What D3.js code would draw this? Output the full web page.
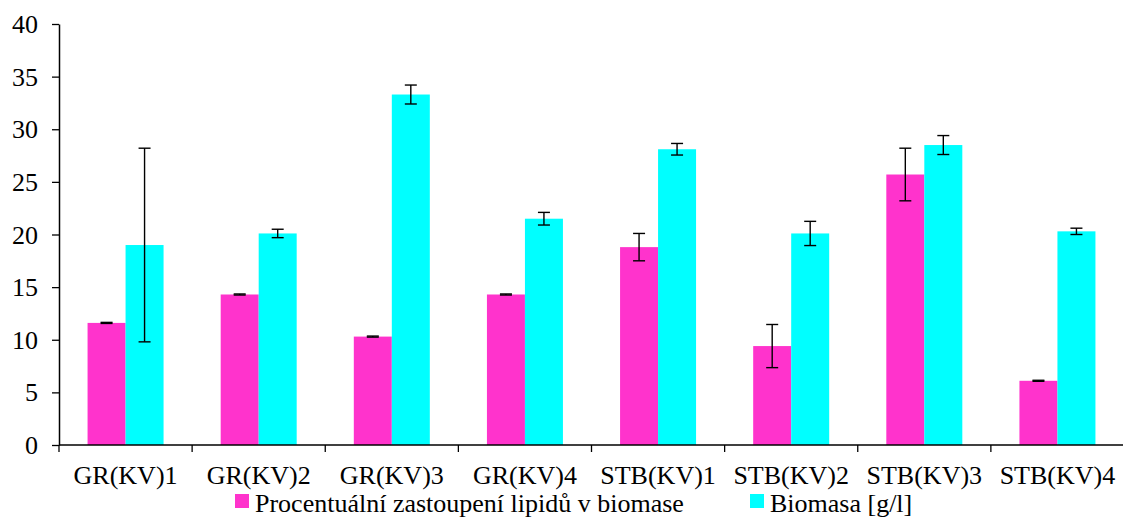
<!DOCTYPE html>
<html>
<head>
<meta charset="utf-8">
<script src="https://cdn.jsdelivr.net/npm/d3@7/dist/d3.min.js"></script>
<style>
  body { margin: 0; background: #fff; }
  text { font-family: "Liberation Serif", "Times New Roman", serif; fill: #000; }
</style>
</head>
<body>
<div id="chart"></div>
<script>
var categories = ["GR(KV)1", "GR(KV)2", "GR(KV)3", "GR(KV)4", "STB(KV)1", "STB(KV)2", "STB(KV)3", "STB(KV)4"];
var seriesNames = ["Procentuální zastoupení lipidů v biomase", "Biomasa [g/l]"];
var lipidy = [11.6, 14.3, 10.3, 14.3, 18.8, 9.4, 25.7, 6.1];
var lipidyErr = [0.05, 0.05, 0.05, 0.05, 1.3, 2.05, 2.5, 0.05];
var biomasa = [19.0, 20.1, 33.3, 21.5, 28.1, 20.1, 28.5, 20.3];
var biomasaErr = [9.2, 0.4, 0.9, 0.6, 0.55, 1.15, 0.9, 0.3];
var yTicks = [0, 5, 10, 15, 20, 25, 30, 35, 40];
var colors = ["#ff33cc", "#00ffff"];

var width = 1123, height = 517;
var mLeft = 59, mRight = 1124, mTop = 24, mBottom = 445;

var svg = d3.select('#chart')
    .append('svg')
    .attr('width', width)
    .attr('height', height);

var x = d3.scaleBand().domain(categories).range([mLeft, mRight]);
var xSub = d3.scaleBand().domain([0, 1]).range([x.bandwidth() / 2 - 38, x.bandwidth() / 2 + 38]);
var y = d3.scaleLinear().domain([0, 40]).range([mBottom, mTop]);

var rows = categories.map(function(c, i) {
    return [
        {cat: c, s: 0, v: lipidy[i], e: lipidyErr[i]},
        {cat: c, s: 1, v: biomasa[i], e: biomasaErr[i]}
    ];
});

var groups = svg.selectAll('g.grp')
    .data(rows)
    .enter()
    .append('g')
    .attr('class', 'grp')
    .attr('transform', (d, i) => 'translate(' + x(categories[i]) + ',0)');

groups.selectAll('rect')
    .data(d => d)
    .enter()
    .append('rect')
    .attr('x', d => xSub(d.s))
    .attr('width', xSub.bandwidth())
    .attr('y', d => y(d.v))
    .attr('height', d => y(0) - y(d.v))
    .attr('fill', d => colors[d.s]);

// error bars
var err = groups.selectAll('g.err')
    .data(d => d)
    .enter()
    .append('g')
    .attr('class', 'err')
    .attr('stroke', '#000')
    .attr('stroke-width', 1.4);

err.append('line')
    .attr('x1', d => xSub(d.s) + xSub.bandwidth() / 2)
    .attr('x2', d => xSub(d.s) + xSub.bandwidth() / 2)
    .attr('y1', d => y(d.v + d.e))
    .attr('y2', d => y(d.v - d.e));
err.selectAll('line.cap')
    .data(d => [d.v + d.e, d.v - d.e].map(v => ({s: d.s, v: v})))
    .enter()
    .append('line')
    .attr('class', 'cap')
    .attr('x1', d => xSub(d.s) + xSub.bandwidth() / 2 - 6)
    .attr('x2', d => xSub(d.s) + xSub.bandwidth() / 2 + 6)
    .attr('y1', d => y(d.v))
    .attr('y2', d => y(d.v));

// y axis
var yAxis = svg.append('g')
    .attr('transform', 'translate(' + mLeft + ',0)')
    .call(d3.axisLeft(y).tickValues(yTicks).tickSize(7).tickPadding(14).tickSizeOuter(0));
yAxis.select('.domain').attr('stroke-width', 1.5);
yAxis.selectAll('.tick line').attr('stroke-width', 1.3);
yAxis.selectAll('text')
    .attr('font-size', 26)
    .attr('dy', '0.33em')
    .style('font-family', '"Liberation Serif", serif')
    .attr('fill', '#000');

// x axis with ticks between categories
var xAxis = svg.append('g')
    .attr('transform', 'translate(0,' + mBottom + ')');
xAxis.append('line')
    .attr('x1', mLeft).attr('x2', mRight)
    .attr('stroke', '#000').attr('stroke-width', 1.5);
xAxis.selectAll('line.tk')
    .data(categories)
    .enter()
    .append('line')
    .attr('class', 'tk')
    .attr('x1', d => x(d)).attr('x2', d => x(d))
    .attr('y1', 0).attr('y2', 7)
    .attr('stroke', '#000').attr('stroke-width', 1.3);
xAxis.selectAll('text')
    .data(categories)
    .enter()
    .append('text')
    .attr('x', d => x(d) + x.bandwidth() / 2)
    .attr('y', 39)
    .attr('text-anchor', 'middle')
    .attr('font-size', 26)
    .text(d => d);

// legend
var legendX = [235, 750];
var legend = svg.append('g');
legend.selectAll('rect')
    .data(seriesNames)
    .enter()
    .append('rect')
    .attr('x', (d, i) => legendX[i])
    .attr('y', 494)
    .attr('width', 14)
    .attr('height', 14)
    .attr('fill', (d, i) => colors[i]);
legend.selectAll('text')
    .data(seriesNames)
    .enter()
    .append('text')
    .attr('x', (d, i) => legendX[i] + 20)
    .attr('y', 512)
    .attr('font-size', 26)
    .text(d => d);
</script>
</body>
</html>
